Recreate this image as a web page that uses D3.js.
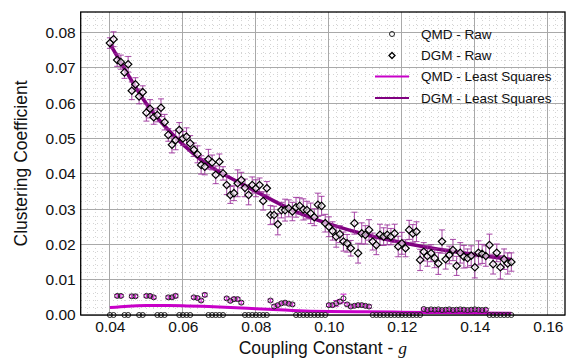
<!DOCTYPE html>
<html><head><meta charset="utf-8">
<script src="https://cdn.jsdelivr.net/npm/d3@7"></script>
<style>body{margin:0;background:#fff}svg{display:block;font-family:"Liberation Sans",Arial,sans-serif}</style>
</head><body><svg id="c" width="570" height="358"></svg>
<script>
const xValues = [0.040,0.041,0.042,0.043,0.044,0.045,0.046,0.047,0.048,0.049,
0.050,0.051,0.052,0.053,0.054,0.055,0.056,0.057,0.058,0.059,
0.060,0.061,0.062,0.063,0.064,0.065,0.066,0.067,0.068,0.069,
0.070,0.071,0.072,0.073,0.074,0.075,0.076,0.077,0.078,0.079,
0.080,0.081,0.082,0.083,0.084,0.085,0.086,0.087,0.088,0.089,
0.090,0.091,0.092,0.093,0.094,0.095,0.096,0.097,0.098,0.099,
0.100,0.101,0.102,0.103,0.104,0.105,0.106,0.107,0.108,0.109,
0.110,0.111,0.112,0.113,0.114,0.115,0.116,0.117,0.118,0.119,
0.120,0.121,0.122,0.123,0.124,0.125,0.126,0.127,0.128,0.129,
0.130,0.131,0.132,0.133,0.134,0.135,0.136,0.137,0.138,0.139,
0.140,0.141,0.142,0.143,0.144,0.145,0.146,0.147,0.148,0.149,0.150];

const dgmRaw = [0.0770,0.0781,0.0722,0.0716,0.0687,0.0710,0.0635,0.0653,0.0619,0.0631,
0.0573,0.0584,0.0560,0.0566,0.0587,0.0546,0.0510,0.0482,0.0495,0.0524,
0.0500,0.0505,0.0486,0.0468,0.0455,0.0425,0.0420,0.0441,0.0432,0.0397,
0.0434,0.0401,0.0368,0.0340,0.0345,0.0373,0.0382,0.0360,0.0340,0.0368,
0.0359,0.0368,0.0323,0.0359,0.0283,0.0283,0.0257,0.0297,0.0297,0.0302,
0.0293,0.0305,0.0309,0.0299,0.0297,0.0288,0.0277,0.0312,0.0309,0.0260,
0.0250,0.0238,0.0222,0.0229,0.0208,0.0203,0.0189,0.0260,0.0175,0.0231,
0.0227,0.0241,0.0208,0.0198,0.0227,0.0222,0.0227,0.0222,0.0231,0.0194,
0.0203,0.0189,0.0241,0.0231,0.0236,0.0156,0.0179,0.0167,0.0175,0.0161,
0.0146,0.0208,0.0158,0.0170,0.0184,0.0139,0.0176,0.0165,0.0161,0.0168,
0.0135,0.0176,0.0173,0.0167,0.0198,0.0144,0.0176,0.0135,0.0158,0.0146,0.0150];

const dgmErr = [0.0015,0.0021,0.0018,0.0020,0.0017,0.0022,0.0025,0.0019,0.0021,0.0018,
0.0024,0.0026,0.0020,0.0019,0.0025,0.0022,0.0018,0.0023,0.0027,0.0021,
0.0020,0.0025,0.0022,0.0019,0.0024,0.0026,0.0023,0.0028,0.0021,0.0025,
0.0022,0.0019,0.0027,0.0024,0.0021,0.0038,0.0022,0.0025,0.0028,0.0023,
0.0024,0.0020,0.0026,0.0019,0.0027,0.0025,0.0030,0.0022,0.0031,0.0024,
0.0026,0.0028,0.0023,0.0030,0.0025,0.0029,0.0024,0.0033,0.0027,0.0025,
0.0028,0.0026,0.0030,0.0024,0.0027,0.0025,0.0022,0.0031,0.0028,0.0030,
0.0026,0.0029,0.0024,0.0027,0.0030,0.0025,0.0028,0.0023,0.0026,0.0029,
0.0031,0.0024,0.0027,0.0025,0.0028,0.0030,0.0026,0.0029,0.0024,0.0027,
0.0031,0.0033,0.0028,0.0025,0.0030,0.0027,0.0029,0.0032,0.0026,0.0028,
0.0030,0.0034,0.0027,0.0029,0.0031,0.0028,0.0025,0.0033,0.0029,0.0030,0.0026];

const qmdRaw = [0,0,0.0054,0.0054,0,0,0.0053,0.0053,0,0,
0.0054,0.0054,0.0050,0,0,0,0.0050,0.0050,0.0054,0,
0,0,0,0.0050,0.0048,0.0041,0.0057,0,0,0,
0,0,0.0047,0.0040,0.0045,0.0045,0.0035,0,0,0,
0,0,0,0,0.0041,0.0024,0.0028,0.0033,0.0035,0.0032,
0.0030,0,0,0,0,0,0,0,0,0,
0.0028,0.0028,0.0033,0.0038,0.0047,0.0030,0.0024,0.0026,0.0028,0.0028,
0.0026,0.0024,0,0,0,0,0,0,0,0,
0,0,0,0,0,0,0.0017,0.0014,0.0016,0.0015,
0.0016,0.0014,0.0015,0.0016,0.0014,0.0015,0.0016,0.0015,0.0014,0.0015,
0.0016,0.0015,0.0014,0.0015,0,0,0,0,0,0,0];

const qmdErr = [0,0,0.0004,0.0004,0,0,0.0004,0.0004,0,0,
0.0004,0.0004,0.0004,0,0,0,0.0004,0.0004,0.0005,0,
0,0,0,0.0004,0.0004,0.0004,0.0005,0,0,0,
0,0,0.0004,0.0004,0.0005,0.0004,0.0004,0,0,0,
0,0,0,0,0.0004,0.0005,0.0004,0.0004,0.0004,0.0004,
0.0004,0,0,0,0,0,0,0,0,0,
0.0004,0.0005,0.0008,0.0006,0.0012,0.0004,0.0004,0.0004,0.0004,0.0004,
0.0004,0.0004,0,0,0,0,0,0,0,0,
0,0,0,0,0,0,0.0003,0.0003,0.0003,0.0003,
0.0003,0.0003,0.0003,0.0003,0.0003,0.0003,0.0003,0.0003,0.0003,0.0003,
0.0003,0.0003,0.0003,0.0003,0,0,0,0,0,0,0];

const fitX = [0.040,0.045,0.050,0.055,0.060,0.065,0.070,0.080,0.090,0.100,0.110,0.120,0.130,0.140,0.150];
const dgmFit = [0.0768,0.0680,0.0598,0.0535,0.0483,0.0439,0.0405,0.0350,0.0297,0.0258,0.0228,0.0205,0.0186,0.0171,0.0157];
const qmdFit = [0.0021,0.0025,0.0027,0.0027,0.0026,0.0025,0.0023,0.0018,0.0013,0.0010,0.0009,0.0008,0.0007,0.0006,0.0005];

const xTicks = [0.04,0.06,0.08,0.10,0.12,0.14,0.16];
const yTicks = [0.00,0.01,0.02,0.03,0.04,0.05,0.06,0.07,0.08];
const xMinor = d3.range(0.032, 0.1647, 0.002);
const yMinor = d3.range(0, 0.0858, 0.002);
const legendLabels = ["QMD - Raw","DGM - Raw","QMD - Least Squares","DGM - Least Squares"];

const L = 80.7, R = 565, T = 12, B = 315;
const x = d3.scaleLinear().domain([0.032, 0.1647]).range([L, R]);
const y = d3.scaleLinear().domain([0, 0.0858]).range([B, T]);
const svg = d3.select("#c");

const QMDC = "#c800c8", DGMC = "#800080";

// minor grid
const g = svg.append("g").attr("shape-rendering", "crispEdges");
g.selectAll(".mx").data(xMinor).join("line")
  .attr("x1", d => x(d)).attr("x2", d => x(d)).attr("y1", T).attr("y2", B)
  .attr("stroke", "#d4d4d4").attr("stroke-width", 1).attr("stroke-dasharray", "1,3");
g.selectAll(".my").data(yMinor).join("line")
  .attr("y1", d => y(d)).attr("y2", d => y(d)).attr("x1", L).attr("x2", R)
  .attr("stroke", "#d4d4d4").attr("stroke-width", 1).attr("stroke-dasharray", "1,3");
// major grid
g.selectAll(".gx").data(xTicks).join("line")
  .attr("x1", d => x(d)).attr("x2", d => x(d)).attr("y1", T).attr("y2", B)
  .attr("stroke", "#a9a9a9").attr("stroke-width", 1);
g.selectAll(".gy").data(yTicks).join("line")
  .attr("y1", d => y(d)).attr("y2", d => y(d)).attr("x1", L).attr("x2", R)
  .attr("stroke", "#a9a9a9").attr("stroke-width", 1);

// axes labels
const xa = svg.append("g").attr("transform", `translate(0,${B})`)
  .call(d3.axisBottom(x).tickValues(xTicks).tickFormat(d3.format(".2f")).tickSize(0).tickPadding(6));
const ya = svg.append("g").attr("transform", `translate(${L},0)`)
  .call(d3.axisLeft(y).tickValues(yTicks).tickFormat(d3.format(".2f")).tickSize(0).tickPadding(5));
[xa, ya].forEach(a => { a.select(".domain").remove(); a.selectAll("text").attr("font-size", 15.5).attr("fill", "#111").attr("font-family", "Liberation Sans, Arial, sans-serif"); });

const line = d3.line().x(d => x(d[0])).y(d => y(d[1])).curve(d3.curveNatural);

// lines
svg.append("path").datum(fitX.map((v, i) => [v, qmdFit[i]])).attr("d", line)
  .attr("fill", "none").attr("stroke", QMDC).attr("stroke-width", 3);
svg.append("path").datum(fitX.map((v, i) => [v, dgmFit[i]])).attr("d", line)
  .attr("fill", "none").attr("stroke", DGMC).attr("stroke-width", 3.6);

const dgm = xValues.map((v, i) => ({x: v, y: dgmRaw[i], e: dgmErr[i]}));
const qmd = xValues.map((v, i) => ({x: v, y: qmdRaw[i], e: qmdErr[i]}));
function errBars(data, color, op, cap) {
  const eg = svg.append("g").attr("stroke", color).attr("stroke-opacity", op).attr("stroke-width", 1.1).attr("fill", "none");
  const f = data.filter(d => d.e > 0);
  eg.selectAll(".v").data(f).join("line")
    .attr("x1", d => x(d.x)).attr("x2", d => x(d.x)).attr("y1", d => y(d.y - d.e)).attr("y2", d => y(d.y + d.e));
  eg.selectAll(".t").data(f).join("line")
    .attr("x1", d => x(d.x) - cap).attr("x2", d => x(d.x) + cap).attr("y1", d => y(d.y + d.e)).attr("y2", d => y(d.y + d.e));
  eg.selectAll(".b").data(f).join("line")
    .attr("x1", d => x(d.x) - cap).attr("x2", d => x(d.x) + cap).attr("y1", d => y(d.y - d.e)).attr("y2", d => y(d.y - d.e));
}
errBars(dgm, "#9a2d9a", 0.8, 3);
errBars(qmd, "#d020d0", 0.9, 3);

const diamond = "M0,-3.7L3.7,0L0,3.7L-3.7,0Z";
svg.append("g").selectAll("path").data(dgm).join("path")
  .attr("d", diamond).attr("transform", d => `translate(${x(d.x)},${y(d.y)})`)
  .attr("fill", "#fff").attr("fill-opacity", 0.6).attr("stroke", "#000").attr("stroke-width", 1.2);
svg.append("g").selectAll("circle").data(qmd).join("circle")
  .attr("cx", d => x(d.x)).attr("cy", d => y(d.y)).attr("r", 2.5)
  .attr("fill", "none").attr("stroke", "#222").attr("stroke-width", 1);

// frame
svg.append("rect").attr("x", L).attr("y", T).attr("width", R - L).attr("height", B - T)
  .attr("fill", "none").attr("stroke", "#000").attr("stroke-width", 1.3);

// legend
const lg = svg.append("g").attr("font-size", 13.5).attr("fill", "#111");
const ly = [34, 55.5, 76.5, 98];
lg.append("circle").attr("cx", 392).attr("cy", ly[0]).attr("r", 2.5).attr("fill", "none").attr("stroke", "#222");
lg.append("path").attr("d", "M0,-3L3,0L0,3L-3,0Z").attr("transform", `translate(392,${ly[1]})`).attr("fill", "#fff").attr("stroke", "#000").attr("stroke-width", 1.3);
lg.append("line").attr("x1", 375).attr("x2", 409).attr("y1", ly[2]).attr("y2", ly[2]).attr("stroke", QMDC).attr("stroke-width", 2);
lg.append("line").attr("x1", 375).attr("x2", 409).attr("y1", ly[3]).attr("y2", ly[3]).attr("stroke", DGMC).attr("stroke-width", 2);
lg.selectAll("text").data(legendLabels).join("text")
  .attr("x", 421).attr("y", (d, i) => ly[i]).attr("dy", "0.35em").text(d => d);

// titles
const xt = svg.append("text").attr("x", (L + R) / 2).attr("y", 354).attr("text-anchor", "middle")
  .attr("font-size", 17.5).attr("fill", "#111");
xt.append("tspan").text("Coupling Constant - ");
xt.append("tspan").attr("font-family", "Liberation Serif, DejaVu Serif, serif").attr("font-style", "italic").text("g");
svg.append("text").attr("transform", `translate(27,${(T + B) / 2}) rotate(-90)`).attr("text-anchor", "middle")
  .attr("font-size", 17.5).attr("fill", "#111").text("Clustering Coefficient");
</script></body></html>
